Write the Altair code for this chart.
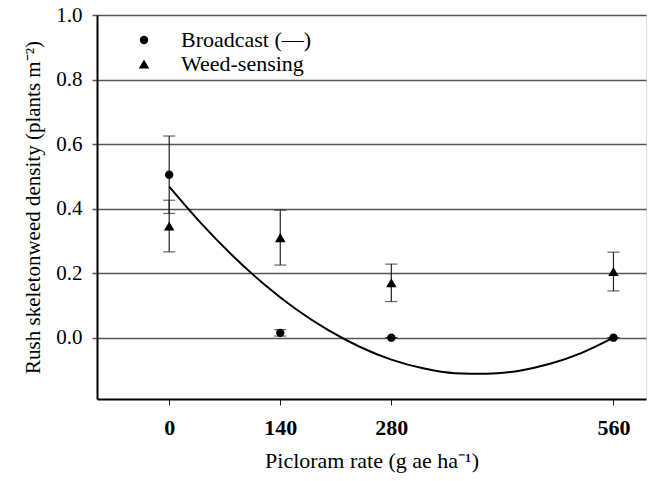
import altair as alt
import pandas as pd

rates = [0, 140, 280, 560]
broadcast_mean = [0.505, 0.015, 0.0, 0.0]
broadcast_se = [0.12, 0.01, 0.0, 0.0]
weed_mean = [0.346, 0.31, 0.17, 0.205]
weed_se = [0.08, 0.085, 0.058, 0.06]
series_names = ["Broadcast (—)", "Weed-sensing"]

fit_x = [0, 40, 80, 120, 160, 200, 240, 280, 320, 360, 400, 440, 480, 520, 560]
fit_y = [0.468, 0.355, 0.254, 0.165, 0.088, 0.024, -0.028, -0.068, -0.095,
         -0.110, -0.112, -0.103, -0.081, -0.047, 0.0]

rows = []
for r, m, s in zip(rates, broadcast_mean, broadcast_se):
    rows.append({"rate": r, "mean": m, "lo": m - s, "hi": m + s, "series": series_names[0]})
for r, m, s in zip(rates, weed_mean, weed_se):
    rows.append({"rate": r, "mean": m, "lo": m - s, "hi": m + s, "series": series_names[1]})
df = pd.DataFrame(rows)
fit = pd.DataFrame({"rate": fit_x, "fit": fit_y})

FONT = "Liberation Serif"
xscale = alt.Scale(domain=[-91, 601], nice=False, zero=False)
yscale = alt.Scale(domain=[-0.19, 1.0], nice=False, zero=False)

xaxis = alt.Axis(values=rates, title="Picloram rate (g ae ha⁻¹)", grid=False,
                 labelFontWeight="bold", labelFontSize=22, labelFont=FONT,
                 labelPadding=12, tickSize=6, tickColor="#222", tickWidth=1,
                 domainColor="black", domainWidth=2, titleFont=FONT,
                 titleFontSize=22, titleFontWeight="normal", titlePadding=12,
                 labelColor="black", titleColor="black")
yaxis = alt.Axis(values=[0, 0.2, 0.4, 0.6, 0.8, 1.0], format=".1f",
                 title="Rush skeletonweed density (plants m⁻²)", grid=True,
                 gridColor="#555", gridWidth=1.5, labelFontSize=21, labelFont=FONT,
                 labelPadding=10, tickSize=5, tickColor="#555", tickWidth=1.5,
                 domainColor="black", domainWidth=2, titleFont=FONT,
                 titleFontSize=21, titleFontWeight="normal", titlePadding=12,
                 labelColor="black", titleColor="black")

base = alt.Chart(df)

bars = base.mark_rule(color="#222", strokeWidth=1.2).encode(
    x=alt.X("rate:Q", scale=xscale, axis=xaxis),
    y=alt.Y("lo:Q", scale=yscale, axis=yaxis),
    y2="hi:Q",
)
caps_hi = base.mark_tick(color="#222", size=12, thickness=1.2, orient="horizontal").encode(
    x=alt.X("rate:Q", scale=xscale), y=alt.Y("hi:Q", scale=yscale))
caps_lo = base.mark_tick(color="#222", size=12, thickness=1.2, orient="horizontal").encode(
    x=alt.X("rate:Q", scale=xscale), y=alt.Y("lo:Q", scale=yscale))

line = alt.Chart(fit).mark_line(color="black", strokeWidth=2, interpolate="monotone").encode(
    x=alt.X("rate:Q", scale=xscale), y=alt.Y("fit:Q", scale=yscale))

legend = alt.Legend(title=None, orient="none", legendX=36, legendY=14,
                    labelFont=FONT, labelFontSize=22, labelColor="black",
                    labelOffset=26, symbolFillColor="black",
                    symbolStrokeColor="black", rowPadding=2)

points = base.mark_point(filled=True, color="black", opacity=1).encode(
    x=alt.X("rate:Q", scale=xscale),
    y=alt.Y("mean:Q", scale=yscale),
    shape=alt.Shape("series:N",
                    scale=alt.Scale(domain=series_names, range=["circle", "triangle-up"]),
                    legend=legend),
    size=alt.Size("series:N",
                  scale=alt.Scale(domain=series_names, range=[70, 110]),
                  legend=legend),
)

chart = alt.layer(bars, caps_hi, caps_lo, line, points).properties(
    width=549, height=384,
    padding={"left": 97, "top": 15, "right": 2, "bottom": 82},
    autosize="none",
).configure_view(stroke="black", strokeWidth=2).configure(background="white")

chart.save("out.html", embed_options={"renderer": "svg", "actions": False})
